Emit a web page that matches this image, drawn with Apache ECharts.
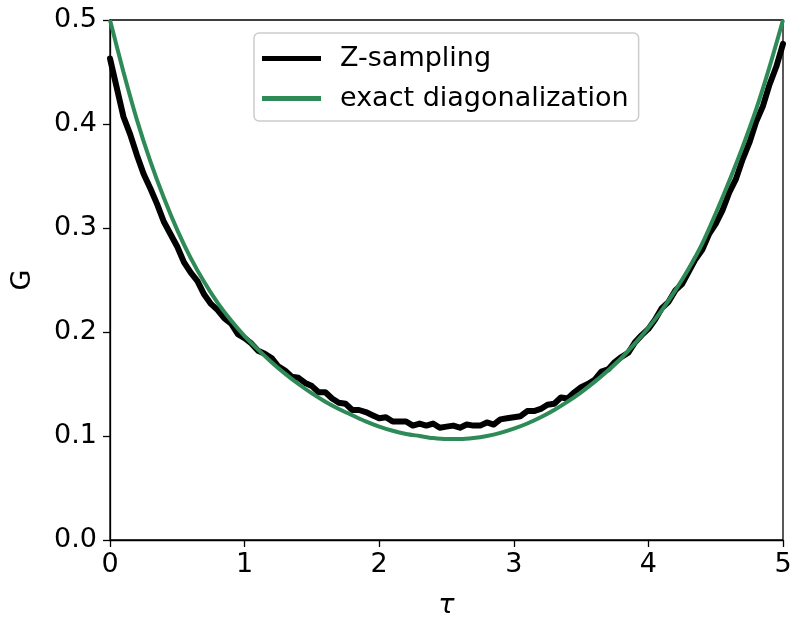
<!DOCTYPE html>
<html>
<head>
<meta charset="utf-8">
<script src="https://cdn.jsdelivr.net/npm/echarts@6/dist/echarts.min.js"></script>
<style>html,body{margin:0;padding:0;background:#fff;}#c{width:793px;height:623px;}</style>
</head>
<body>
<div id="c"></div>
<script>
const xTicks = [0, 1, 2, 3, 4, 5];
const yTicks = ["0.0", "0.1", "0.2", "0.3", "0.4", "0.5"];
const seriesNames = ["Z-sampling", "exact diagonalization"];

const tauZ = [0.00,0.05,0.10,0.15,0.20,0.25,0.30,0.35,0.40,0.45,0.50,0.55,0.60,0.65,0.70,0.75,0.80,0.85,0.90,0.95,
1.00,1.05,1.10,1.15,1.20,1.25,1.30,1.35,1.40,1.45,1.50,1.55,1.60,1.65,1.70,1.75,1.80,1.85,1.90,1.95,
2.00,2.05,2.10,2.15,2.20,2.25,2.30,2.35,2.40,2.45,2.50,2.55,2.60,2.65,2.70,2.75,2.80,2.85,2.90,2.95,
3.00,3.05,3.10,3.15,3.20,3.25,3.30,3.35,3.40,3.45,3.50,3.55,3.60,3.65,3.70,3.75,3.80,3.85,3.90,3.95,
4.00,4.05,4.10,4.15,4.20,4.25,4.30,4.35,4.40,4.45,4.50,4.55,4.60,4.65,4.70,4.75,4.80,4.85,4.90,4.95,5.00];
const gZ = [0.463,0.435,0.407,0.390,0.370,0.352,0.338,0.323,0.306,0.294,0.282,0.267,0.257,0.249,0.236,0.227,0.221,0.213,0.208,0.198,
0.194,0.189,0.182,0.179,0.175,0.167,0.163,0.157,0.156,0.151,0.148,0.142,0.142,0.136,0.132,0.131,0.125,0.125,0.123,0.120,
0.117,0.118,0.114,0.114,0.114,0.110,0.112,0.110,0.112,0.108,0.109,0.110,0.108,0.111,0.110,0.110,0.113,0.111,0.116,0.117,
0.118,0.119,0.124,0.124,0.126,0.130,0.131,0.137,0.136,0.142,0.147,0.150,0.154,0.162,0.164,0.171,0.176,0.180,0.190,0.197,
0.203,0.212,0.223,0.229,0.240,0.246,0.258,0.270,0.279,0.294,0.304,0.317,0.334,0.347,0.366,0.382,0.402,0.417,0.438,0.455,0.477];

const tauED = [0.0,0.1,0.2,0.3,0.4,0.5,0.6,0.7,0.8,0.9,1.0,1.1,1.2,1.3,1.4,1.5,1.6,1.7,1.8,1.9,
2.0,2.1,2.2,2.3,2.4,2.5,2.6,2.7,2.8,2.9,3.0,3.1,3.2,3.3,3.4,3.5,3.6,3.7,3.8,3.9,
4.0,4.1,4.2,4.3,4.4,4.5,4.6,4.7,4.8,4.9,5.0];
const gED = [0.500,0.450,0.404,0.364,0.329,0.298,0.271,0.248,0.228,0.211,0.196,0.183,0.171,0.160,0.150,0.141,0.133,0.126,0.120,0.114,
0.109,0.105,0.102,0.100,0.098,0.097,0.097,0.098,0.100,0.103,0.107,0.112,0.118,0.125,0.133,0.142,0.152,0.163,0.175,0.189,
0.204,0.221,0.240,0.261,0.285,0.314,0.345,0.378,0.414,0.455,0.500];

const pairs = (xs, ys) => xs.map((x, i) => [x, ys[i]]);
const FONT = 'DejaVu Sans';
const FS = 27;

const chart = echarts.init(document.getElementById('c'), null, {renderer: 'canvas'});
chart.setOption({
  animation: false,
  backgroundColor: '#fff',
  grid: {left: 110, right: 10, top: 20, bottom: 83, containLabel: false, outerBoundsMode: 'none',
    show: true, borderColor: '#000', borderWidth: 1.3, backgroundColor: 'transparent'},
  xAxis: {
    type: 'value', min: 0, max: 5, interval: 1,
    name: 'τ', nameLocation: 'middle', nameGap: 52,
    nameTextStyle: {fontFamily: FONT, fontSize: FS, fontStyle: 'italic', color: '#000'},
    axisLine: {show: true, lineStyle: {color: '#000', width: 1.3}},
    axisTick: {show: true, length: 7, lineStyle: {color: '#000', width: 1.3}},
    axisLabel: {fontFamily: FONT, fontSize: FS, color: '#000', margin: 11,
      formatter: v => xTicks.includes(v) ? String(v) : ''},
    splitLine: {show: false}
  },
  yAxis: {
    type: 'value', min: 0, max: 0.5, interval: 0.1,
    name: 'G', nameLocation: 'middle', nameGap: 74, nameRotate: 90,
    nameTextStyle: {fontFamily: FONT, fontSize: FS, color: '#000'},
    axisLine: {show: true, lineStyle: {color: '#000', width: 1.3}},
    axisTick: {show: true, length: 7, lineStyle: {color: '#000', width: 1.3}},
    axisLabel: {fontFamily: FONT, fontSize: FS, color: '#000', margin: 13,
      formatter: v => yTicks[Math.round(v * 10)]},
    splitLine: {show: false}
  },
  legend: {
    orient: 'vertical', left: 254, top: 33,
    padding: [12, 10, 9, 8],
    itemGap: 13, itemWidth: 59, itemHeight: 5,
    icon: 'rect',
    borderColor: '#cccccc', borderWidth: 1.5, borderRadius: 5,
    backgroundColor: 'rgba(255,255,255,0.8)',
    textStyle: {fontFamily: FONT, fontSize: FS, color: '#000', padding: [0, 0, 0, 14]},
    data: seriesNames
  },
  series: [
    {name: seriesNames[0], type: 'line', data: pairs(tauZ, gZ), symbol: 'none', smooth: false,
     lineStyle: {color: '#000', width: 6, join: 'round', cap: 'round'}, itemStyle: {color: '#000'}, z: 2},
    {name: seriesNames[1], type: 'line', data: pairs(tauED, gED), symbol: 'none', smooth: 0.3,
     lineStyle: {color: '#2e8b57', width: 4}, itemStyle: {color: '#2e8b57'}, z: 3}
  ]
});
</script>
</body>
</html>
